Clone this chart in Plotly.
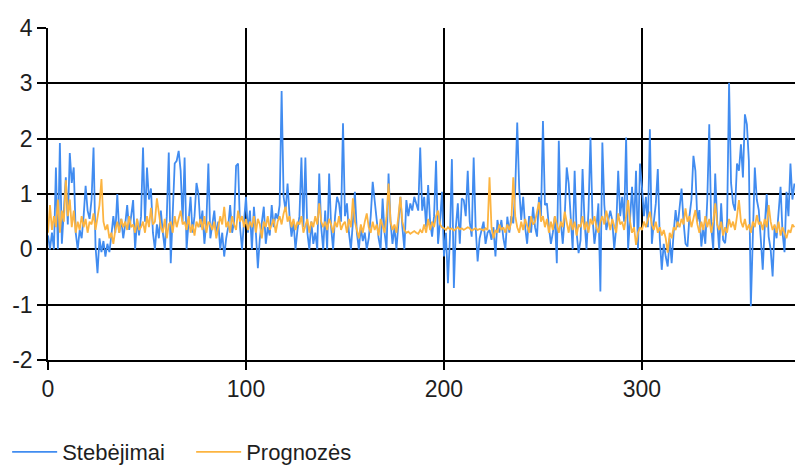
import plotly.graph_objects as go

series_names = ["Stebėjimai", "Prognozės"]

stebejimai = [
    0.25, 0.0, 0.3, 0.0, 1.48, 0.0, 1.92, 0.1, 0.7, 1.3,
    0.45, 1.74, 1.2, 1.48, 0.3, 0.0, 0.35, 0.2, 0.6, 1.15,
    0.7, 0.55, 0.9, 1.84, 0.05, -0.43, 0.2, -0.05, 0.15, -0.13,
    0.1, -0.05, 0.25, 0.6, 0.3, 1.0, 0.3, 0.55, 0.2, 0.45,
    0.8, 0.35, 0.6, 0.89, 0.0, 0.55, 0.25, 0.6, 1.84, 0.5,
    1.48, 0.9, 1.1, 0.3, 0.0, 0.45, 0.2, 0.7, 0.3, 0.0,
    0.6, 1.75, -0.25, 0.8, 1.55, 1.6, 1.78, 1.42, 0.5, 1.66,
    0.0, 0.5, 0.95, 0.3, 0.6, 1.2, 1.0, 0.4, 0.7, 0.1,
    0.5, 1.55, 0.2, 0.45, 0.7, 0.25, 0.5, 0.0, 0.3, -0.13,
    0.2, 0.4, 0.8, 0.3, 0.5, 1.51, 1.55, 0.4, 0.0, 0.5,
    0.95, 0.3, 0.7, 0.0, 0.77, 0.3, -0.34, 0.2, 0.5, 0.77,
    0.1, 0.4, 0.25, 0.8, 0.4, 0.65, 0.55, 0.8, 2.86, 0.95,
    0.7, 1.19, 0.6, 0.23, 0.5, 0.0, 0.35, 0.6, 1.66, 0.4,
    1.66, 0.3, 0.0, 0.5, 0.1, 0.3, 0.0, 1.37, 0.4, 0.0,
    0.7, 0.0, 1.37, 0.4, 0.0, 0.6, 0.95, 0.83, 0.5, 2.28,
    0.6, 0.83, 0.3, 0.0, 0.5, 1.04, 0.3, 0.0, 0.4, 0.15,
    0.3, 0.0, 0.2, 0.6, 1.22, 0.9, 0.47, 0.2, 0.0, 0.92,
    0.3, 0.0, 1.37, 0.5, 0.1, 0.4, 0.0, 0.5, 0.95, 0.4,
    0.0, 0.89, 0.6, 0.83, 0.7, 0.95, 0.8, 0.7, 1.84, 0.7,
    0.95, 0.4, 1.16, 0.5, 0.23, 0.6, 1.6, 0.1, 0.5, 1.04,
    -0.13, 0.3, -0.61, 0.2, 1.63, -0.7, 0.4, 0.83, 0.1, 0.92,
    0.89, 0.6, 1.42, 0.5, 0.23, 1.66, 0.4, -0.22, 0.2, 0.35,
    0.5, 0.1, 0.3, 0.35, 0.17, 0.4, -0.13, 0.53, 0.3, 0.53,
    0.2, 0.0, 0.59, 0.3, 0.6, 0.47, 1.1, 2.29, 1.1, 0.53,
    0.95, 0.4, 0.1, 0.6, 0.3, 0.77, 0.4, 0.23, 0.95, 0.6,
    2.32, 0.8, 0.83, 0.4, 0.1, 0.3, 0.59, -0.25, 1.96, 0.5,
    0.1, 0.6, 1.48, 1.19, 0.5, 0.0, 1.42, 0.3, -0.07, 0.17,
    1.45, 0.5, 0.0, 0.7, 2.02, 0.6, 0.1, 0.4, 0.83, -0.76,
    1.93, 0.8, 0.35, 0.5, 0.7, 0.53, 0.0, 0.4, 1.42, 0.6,
    0.95, 0.5, 2.02, 0.0, 0.5, 1.13, 0.4, 1.42, 0.0, 1.55,
    1.13, 0.6, 0.95, 0.4, 2.17, 0.1, 0.5, 0.83, 1.45, 0.2,
    -0.37, 0.1, -0.13, -0.31, 0.2, -0.25, 0.3, 0.71, 0.4, 0.77,
    1.1, 0.5, 0.1, 0.05, 0.6, 0.9, 1.69, 1.42, 0.5, 0.71,
    0.05, 0.4, 0.1, 0.9, 2.26, 0.4, 0.0, 1.37, 0.5, 0.0,
    0.83, 0.17, 0.11, 0.5, 3.01, 1.2, 0.83, 0.7, 1.55, 1.42,
    1.9, 1.3, 2.44, 2.26, 1.6, -1.03, 0.5, 1.48, 0.9, 0.71,
    0.2, -0.37, 0.4, 1.0, 0.23, 0.0, -0.49, 0.41, 0.2, 0.7,
    1.13, 0.3, -0.05, 1.04, 0.6, 1.55, 0.9, 1.19,
]

prognozes = [
    0.3, 0.8, 0.35, 0.6, 0.4, 0.9, 0.3, 0.7, 0.5, 1.25,
    0.6, 0.9, 0.4, 0.7, 0.3, 0.5, 0.35, 0.6, 0.4, 0.55,
    0.3, 0.5, 0.45, 0.65, 0.35, 0.55, 0.8, 1.27, 0.5, 0.35,
    0.45, 0.2, 0.3, 0.1, 0.35, 0.5, 0.3, 0.55, 0.4, 0.5,
    0.35, 0.6, 0.4, 0.45, 0.3, 0.55, 0.35, 0.4, 0.5, 0.3,
    0.6, 0.4, 0.75, 0.45, 0.5, 0.92, 0.6, 0.4, 0.3, 0.55,
    0.2, 0.45, 0.5, 0.3, 0.6, 0.4, 0.55, 0.7, 0.45, 0.5,
    0.35, 0.6, 0.3, 0.45, 0.25, 0.5, 0.4, 0.55, 0.35, 0.6,
    0.3, 0.5, 0.45, 0.35, 0.5, 0.2, 0.4, 0.6, 0.45, 0.77,
    0.4, 0.5, 0.3, 0.6, 0.45, 0.35, 0.7, 0.5, 0.6, 0.4,
    0.55, 0.35, 0.5, 0.4, 0.6, 0.3, 0.55, 0.45, 0.2, 0.5,
    0.4, 0.6, 0.35, 0.45, 0.55, 0.3, 0.5, 0.6, 0.45, 0.65,
    0.77, 0.5, 0.6, 0.4, 0.55, 0.35, 0.5, 0.45, 0.6, 0.3,
    0.45, 0.55, 0.3, 0.5, 0.4, 0.6, 0.45, 0.83, 0.5, 0.4,
    0.5, 0.35, 0.55, 0.45, 0.3, 0.5, 0.4, 0.6, 0.35, 0.45,
    0.5, 0.3, 0.55, 0.4, 0.92, 0.5, 0.35, 0.2, 0.45, 0.3,
    0.5, 0.65, 0.4, 0.3, 0.5, 0.35, 0.45, 0.25, 0.55, 0.4,
    0.3, 0.6, 1.19, 0.5, 0.35, 0.45, 0.3, 0.6, 0.95, 0.5,
    0.35, 0.3, 0.32, 0.28, 0.3, 0.33, 0.3, 0.28, 0.35, 0.3,
    0.45, 0.3, 0.55, 0.35, 0.5, 0.4, 0.6, 0.7, 0.45, 0.4,
    0.38, 0.35, 0.4, 0.36, 0.38, 0.34, 0.37, 0.4, 0.36, 0.38,
    0.35, 0.37, 0.4, 0.38, 0.34, 0.36, 0.38, 0.35, 0.37, 0.36,
    0.34, 0.38, 0.35, 1.3, 0.4, 0.2, 0.35, 0.3, 0.45, 0.35,
    0.4, 0.3, 0.45, 0.35, 0.5, 1.3, 0.6, 0.4, 0.3, 0.5,
    0.35, 0.55, 0.4, 0.3, 0.6, 0.45, 0.5, 0.7, 0.85, 0.5,
    0.6, 0.4, 0.55, 0.3, 0.5, 0.35, 0.6, 0.45, 0.3, 0.5,
    0.4, 0.68, 0.45, 0.3, 0.55, 0.35, 0.5, 0.25, 0.45, 0.4,
    0.6, 0.35, 0.5, 0.3, 0.55, 0.45, 0.6, 0.4, 0.3, 0.5,
    0.6, 0.45, 0.7, 0.5, 0.35, 0.55, 0.4, 0.3, 0.65, 0.45,
    0.5, 0.35, 0.6, 0.89, 0.5, 0.3, 0.4, 0.08, 0.3, 0.4,
    0.35, 0.5, 0.4, 0.55, 0.68, 0.45, 0.35, 0.5, 0.3, 0.4,
    0.25, 0.35, 0.2, -0.06, 0.3, 0.2, 0.4, 0.35, 0.5, 0.4,
    0.55, 0.45, 0.74, 0.5, 0.6, 0.4, 0.55, 0.71, 0.45, 0.3,
    0.5, 0.35, 0.6, 0.4, 0.55, 0.3, 0.5, 0.83, 0.45, 0.35,
    0.5, 0.25, 0.4, 0.3, 0.55, 0.4, 0.5, 0.35, 0.6, 0.89,
    0.5, 0.4, 0.55, 0.35, 0.45, 0.3, 0.5, 0.4, 0.62, 0.45,
    0.5, 0.35, 0.55, 0.4, 0.8, 0.5, 0.35, 0.45, 0.3, 0.5,
    0.25, 0.4, 0.3, 0.2, 0.35, 0.3, 0.45, 0.4,
]

x_obs = list(range(len(stebejimai)))
x_prog = list(range(len(prognozes)))

y_ticks = [-2, -1, 0, 1, 2, 3, 4]
y_labels = ["-2", "-1", "0", "1", "2", "3", "4"]
x_ticks = [0, 100, 200, 300]

FONT = "Liberation Sans, Arial, sans-serif"
TXT = "#1e1e1e"

fig = go.Figure()
fig.add_trace(go.Scatter(x=x_obs, y=stebejimai, mode="lines", name=series_names[0],
                         line=dict(color="#418CF0", width=1.8)))
fig.add_trace(go.Scatter(x=x_prog, y=prognozes, mode="lines", name=series_names[1],
                         line=dict(color="#FCB441", width=1.8)))

fig.update_layout(
    width=795, height=466,
    margin=dict(l=48, r=0, t=28, b=106, autoexpand=False),
    paper_bgcolor="white", plot_bgcolor="white",
    font=dict(family=FONT, size=22, color=TXT),
    showlegend=True,
    legend=dict(orientation="h", xref="container", yref="container",
                x=0.009, y=0.03, xanchor="left", yanchor="middle",
                font=dict(family=FONT, size=22, color=TXT),
                itemwidth=45, entrywidth=124, entrywidthmode="pixels",
                bgcolor="rgba(0,0,0,0)"),
)
fig.update_xaxes(range=[0, 377.3], tickvals=x_ticks, showgrid=True, gridcolor="black",
                 gridwidth=1.5, showline=True, linecolor="black", linewidth=1.5,
                 ticks="outside", ticklen=8, tickcolor="black", tickwidth=1.5,
                 zeroline=False, automargin=False, tickfont=dict(size=23))
fig.update_yaxes(range=[-2, 4], tickvals=y_ticks, ticktext=y_labels, showgrid=True,
                 gridcolor="black", gridwidth=1.5, showline=True, linecolor="black",
                 linewidth=1.5, ticks="outside", ticklen=9, tickcolor="black", tickwidth=1.5,
                 zeroline=False, automargin=False, tickfont=dict(size=23))

fig.write_html("out.html", config={"displayModeBar": False},
               post_script="document.body.style.margin='0px';document.body.style.overflow='hidden';")
